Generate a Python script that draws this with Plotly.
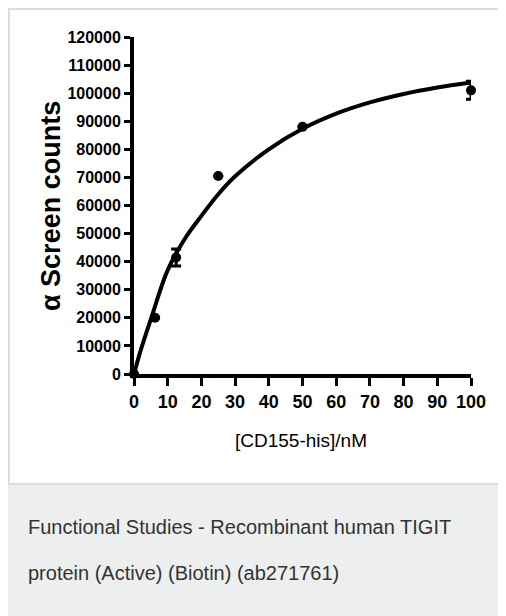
import plotly.graph_objects as go

conc = [0, 6.25, 12.5, 25, 50, 100]
signal = [0, 20000, 41500, 70500, 88000, 101000]
signal_err = [0, 0, 3000, 0, 0, 3200]

# Fitted curve
fit_x = [0, 2, 5, 10, 15, 20, 25, 30, 40, 50, 60, 70, 80, 90, 100]
fit_y = [0, 8500, 19500, 37000, 48000, 56300, 64000, 70400, 80000, 87300, 92700, 96700, 99700, 102000, 103800]

x_ticks = [0, 10, 20, 30, 40, 50, 60, 70, 80, 90, 100]
y_ticks = list(range(0, 120001, 10000))

W, H = 506, 616
OFF = 8  # page body margin offset of the figure
def px(x):
    return (x - OFF) / W
def py(y):
    return (H - (y - OFF)) / H

fig = go.Figure()
fig.add_trace(go.Scatter(
    x=fit_x, y=fit_y, mode="lines",
    line=dict(color="black", width=4, shape="spline", smoothing=1.0),
    cliponaxis=False, hoverinfo="skip", showlegend=False))
fig.add_trace(go.Scatter(
    x=conc, y=signal, mode="markers",
    marker=dict(color="black", size=10, symbol="circle"),
    error_y=dict(type="data", array=signal_err, visible=True,
                 color="black", thickness=3, width=5),
    cliponaxis=False, showlegend=False))

tickfont_y = dict(family="Liberation Sans, Arial, sans-serif",
                  size=16, color="black", weight="bold")
tickfont_x = dict(family="Liberation Sans, Arial, sans-serif",
                  size=18, color="black", weight="bold")

fig.update_layout(
    template="none",
    width=W, height=H,
    margin=dict(l=0, r=0, t=0, b=0, autoexpand=False),
    paper_bgcolor="white", plot_bgcolor="rgba(0,0,0,0)",
    xaxis=dict(domain=[px(134), px(471)], range=[0, 100], automargin=False,
               tickvals=x_ticks, ticktext=[str(v) for v in x_ticks], tickangle=0,
               showgrid=False, zeroline=False,
               showline=True, linecolor="black", linewidth=4,
               ticks="outside", ticklen=8, tickwidth=3, tickcolor="black",
               tickfont=tickfont_x, fixedrange=True),
    yaxis=dict(domain=[py(374), py(37)], range=[0, 120000], automargin=False,
               tickvals=y_ticks, ticktext=[str(v) for v in y_ticks],
               showgrid=False, zeroline=False,
               showline=True, linecolor="black", linewidth=4,
               ticks="outside", ticklen=6, tickwidth=3, tickcolor="black",
               tickfont=tickfont_y, fixedrange=True),
    shapes=[
        dict(type="rect", xref="paper", yref="paper",
             x0=px(9), x1=1.05, y0=py(484), y1=py(9),
             line=dict(color="#dcdcdc", width=2), fillcolor="white", layer="below"),
        dict(type="rect", xref="paper", yref="paper",
             x0=px(8), x1=1.05, y0=-0.05, y1=py(485),
             line=dict(width=0), fillcolor="#edefee", layer="below"),
    ],
    annotations=[
        dict(text="α Screen counts", x=px(51), y=py(206), xref="paper", yref="paper",
             textangle=-90, showarrow=False, xanchor="center", yanchor="middle",
             font=dict(family="Liberation Sans, Arial, sans-serif", size=27, color="black", weight="bold")),
        dict(text="[CD155-his]/nM", x=px(301), y=py(440), xref="paper", yref="paper",
             showarrow=False, xanchor="center", yanchor="middle",
             font=dict(family="Liberation Sans, Arial, sans-serif", size=19, color="black")),
        dict(text="Functional Studies - Recombinant human TIGIT", x=px(26), y=py(527),
             xref="paper", yref="paper", showarrow=False, xanchor="left", yanchor="middle",
             font=dict(family="Liberation Sans, Arial, sans-serif", size=20, color="#333333")),
        dict(text="protein (Active) (Biotin) (ab271761)", x=px(26), y=py(573),
             xref="paper", yref="paper", showarrow=False, xanchor="left", yanchor="middle",
             font=dict(family="Liberation Sans, Arial, sans-serif", size=20, color="#333333")),
    ],
)

fig.write_html("out.html")
